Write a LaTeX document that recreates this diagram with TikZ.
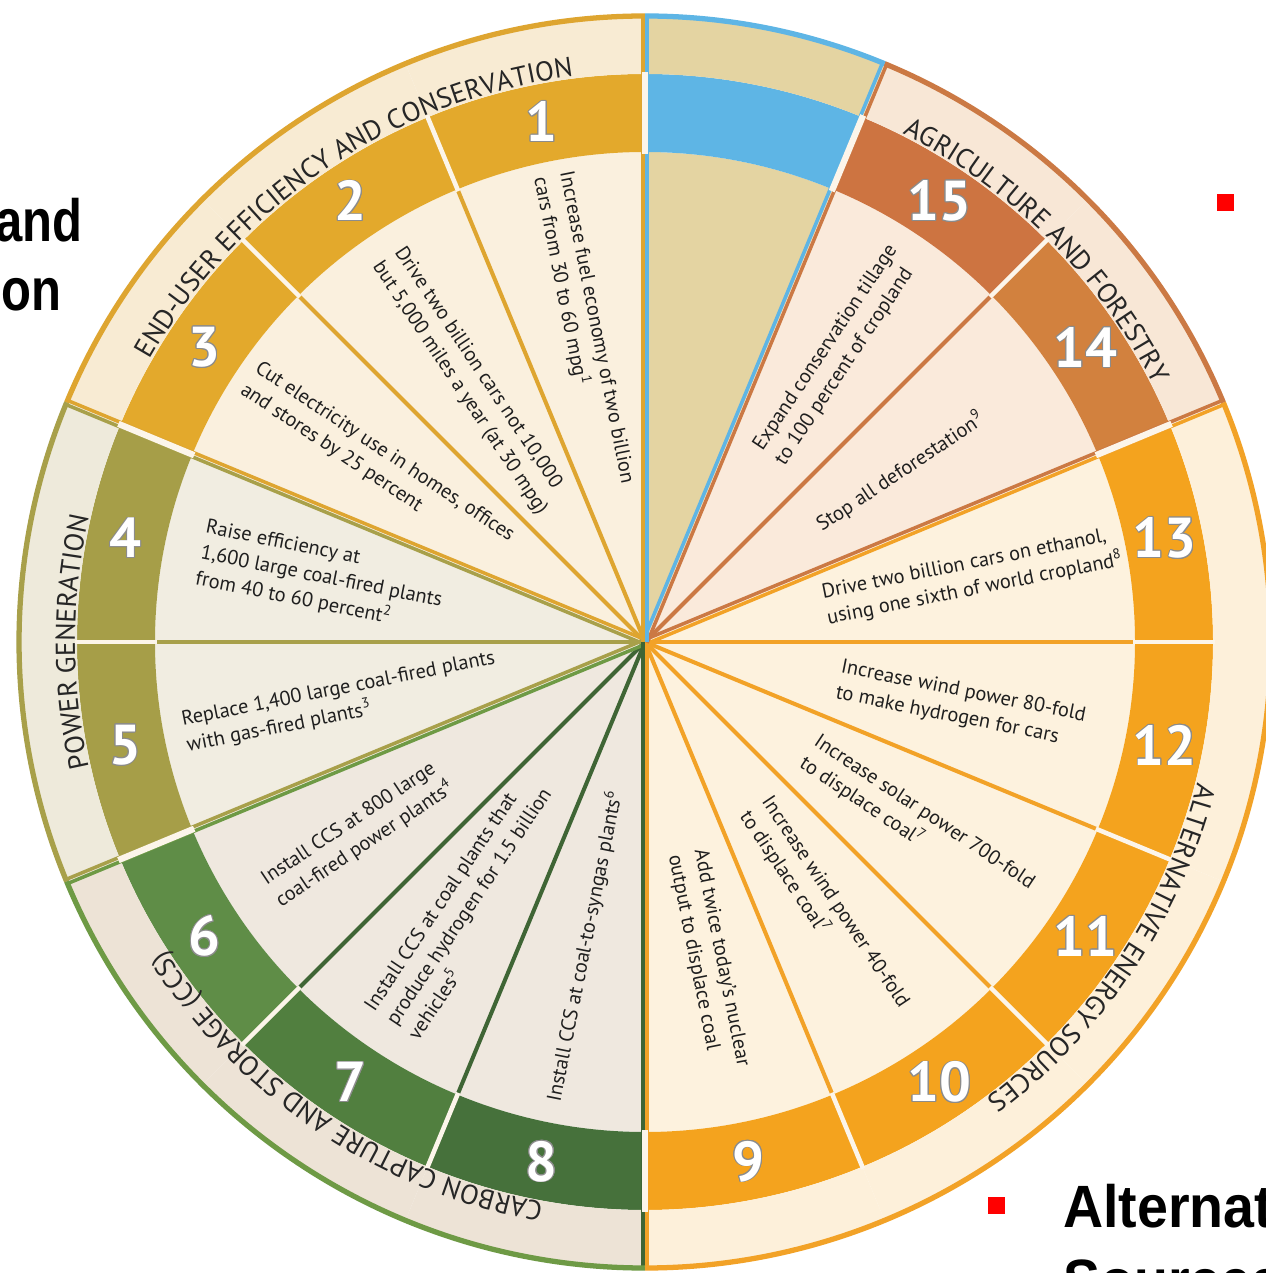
\documentclass[tikz,border=0pt]{standalone}
\usepackage{fontspec}
\usepackage{contour}
\setmainfont{PT Sans}
\newfontfamily\slidefont{Liberation Sans}
\usetikzlibrary{decorations.text}

\definecolor{usebg}{HTML}{FAF0DE}
\definecolor{useband}{HTML}{F8EBD3}
\definecolor{usering}{HTML}{E3A92C}
\definecolor{useline}{HTML}{DEA530}
\definecolor{powbg}{HTML}{F1EDE1}
\definecolor{powband}{HTML}{EEEADB}
\definecolor{powring}{HTML}{A69E48}
\definecolor{powline}{HTML}{A8A04A}
\definecolor{ccsbg}{HTML}{EFE8DF}
\definecolor{ccsband}{HTML}{EDE3D6}
\definecolor{ccs6}{HTML}{5F8D47}
\definecolor{ccs7}{HTML}{517F3F}
\definecolor{ccs8}{HTML}{46713B}
\definecolor{ccsline}{HTML}{6E9A45}
\definecolor{ccsdark}{HTML}{3F6535}
\definecolor{altbg}{HTML}{FDF2DE}
\definecolor{altband}{HTML}{FDF0DA}
\definecolor{altring}{HTML}{F4A31E}
\definecolor{altline}{HTML}{F2A227}
\definecolor{agrbg}{HTML}{FAEADB}
\definecolor{agrband}{HTML}{F8E7D6}
\definecolor{agr15}{HTML}{CD7441}
\definecolor{agr14}{HTML}{D2813E}
\definecolor{agrline}{HTML}{CB7944}
\definecolor{skyblue}{HTML}{5EB5E5}
\definecolor{tan}{HTML}{E4D4A2}
\definecolor{gapcol}{HTML}{FCF5EA}
\definecolor{slidered}{HTML}{FF0000}

\newcommand{\wedgefont}{\fontsize{11.6}{15}\selectfont}
\newcommand{\catfont}{\fontsize{15.6}{15.6}\selectfont}
\newcommand{\numfont}{\fontsize{32}{32}\selectfont\bfseries}
\contourlength{0.5pt}

\tikzset{
  wedgetext/.style={align=left, text=black!88, font=\wedgefont, inner sep=0pt},
  ringnum/.style={text=white, font=\numfont, inner sep=0pt},
  catlabel/.style={decorate, decoration={text along path, text align=center,
      text color=black!85, text={|\catfont|#1}}},
  spoke/.style={line width=2.3pt},
  divider/.style={line width=2pt},
  gap/.style={gapcol, line width=2.6pt},
  rim/.style={line width=3pt},
  slidetext/.style={font=\slidefont\bfseries\fontsize{34}{34}\selectfont, inner sep=0pt},
  bullet/.style={fill=slidered, minimum size=17*0.02cm, inner sep=0pt}
}

\begin{document}
\begin{tikzpicture}[x=0.02cm, y=0.02cm]
\useasboundingbox (-645,-631) rectangle (621,642);
\fill[white] (-645,-631) rectangle (621,642);

% wedges: inner / number ring / label band
\foreach \i/\inner/\ring/\band in {1/usebg/usering/useband, 2/usebg/usering/useband,
    3/usebg/usering/useband, 4/powbg/powring/powband, 5/powbg/powring/powband,
    6/ccsbg/ccs6/ccsband, 7/ccsbg/ccs7/ccsband, 8/ccsbg/ccs8/ccsband,
    9/altbg/altring/altband, 10/altbg/altring/altband, 11/altbg/altring/altband,
    12/altbg/altring/altband, 13/altbg/altring/altband,
    14/agrbg/agr14/agrband, 15/agrbg/agr15/agrband, 0/tan/skyblue/tan}{
  \pgfmathsetmacro{\sa}{90+22.5*(\i-1)}
  \pgfmathsetmacro{\sb}{\sa+22.5}
  \fill[\inner] (0,0) -- (\sa:490) arc[start angle=\sa, end angle=\sb, radius=490] -- cycle;
  \fill[\ring] (\sa:490) -- (\sa:568) arc[start angle=\sa, end angle=\sb, radius=568]
    -- (\sb:490) arc[start angle=\sb, end angle=\sa, radius=490] -- cycle;
  \fill[\band] (\sa:568) -- (\sa:628) arc[start angle=\sa, end angle=\sb, radius=628]
    -- (\sb:568) arc[start angle=\sb, end angle=\sa, radius=568] -- cycle;
}

% spokes inside a group
\foreach \ang/\col in {112.5/useline, 135/useline, 180/powline, 225/ccsdark, 247.5/ccsdark,
    292.5/altline, 315/altline, 337.5/altline, 360/altline, 45/agrline}{
  \draw[spoke,\col] (0,0) -- (\ang:490);
  \draw[gap] (\ang:488) -- (\ang:570);
}

% group borders, two colours side by side
\foreach \ang/\ccw/\cw in {157.5/powline/useline, 202.5/ccsline/powline, 270/altline/ccsdark,
    22.5/agrline/altline, 67.5/skyblue/agrline, 90/useline/skyblue}{
  \draw[divider,\ccw,shift={(\ang+90:2.2)}] (0,0) -- (\ang:628);
  \draw[divider,\cw,shift={(\ang-90:2.2)}] (0,0) -- (\ang:628);
  \draw[gap,line width=3.6pt] (\ang:488) -- (\ang:570);
}

\foreach \sa/\sb/\col in {90/157.5/useline, 157.5/202.5/powline, 202.5/270/ccsline,
    270/382.5/altline, 22.5/67.5/agrline, 67.5/90/skyblue}
  \draw[rim,\col] (\sa:626) arc[start angle=\sa, end angle=\sb, radius=626];

% group names on the outer band
\path[catlabel={END-USER EFFICIENCY AND CONSERVATION}] (157.5:570) arc[start angle=157.5, end angle=90, radius=570];
\path[catlabel={POWER GENERATION}] (202.5:570) arc[start angle=202.5, end angle=157.5, radius=570];
\path[catlabel={CARBON CAPTURE AND STORAGE (CCS)}] (270:570) arc[start angle=270, end angle=202.5, radius=570];
\path[catlabel={ALTERNATIVE ENERGY SOURCES}] (22.5:570) arc[start angle=22.5, end angle=-90, radius=570];
\path[catlabel={AGRICULTURE AND FORESTRY}] (67.5:570) arc[start angle=67.5, end angle=22.5, radius=570];

\foreach \i in {1,...,15}{
  \pgfmathsetmacro{\m}{101.25+22.5*(\i-1)}
  \node[ringnum] (n\i) at (\m:530) {\contour{black!45}{\i}};
}

\node[wedgetext, rotate=-78.75] (w1) at (101.25:318)
  {Increase fuel economy of two billion\\cars from 30 to 60 mpg\textsuperscript{1}};
\node[wedgetext, rotate=-56.25] (w2) at (123.75:314)
  {Drive two billion cars not 10,000\\but 5,000 miles a year (at 30 mpg)};
\node[wedgetext, rotate=-33.75] (w3) at (146.25:322)
  {Cut electricity use in homes, offices\\and stores by 25 percent};
\node[wedgetext, rotate=-11.25] (w4) at (168.75:330)
  {Raise efficiency at\\1,600 large coal-fired plants\\from 40 to 60 percent\textsuperscript{2}};
\node[wedgetext, rotate=11.25] (w5) at (191.25:310)
  {Replace 1,400 large coal-fired plants\\with gas-fired plants\textsuperscript{3}};
\node[wedgetext, rotate=33.75] (w6) at (213.75:345)
  {Install CCS at 800 large\\coal-fired power plants\textsuperscript{4}};
\node[wedgetext, rotate=56.25] (w7) at (236.25:318)
  {Install CCS at coal plants that\\produce hydrogen for 1.5 billion\\vehicles\textsuperscript{5}};
\node[wedgetext, rotate=78.75] (w8) at (258.75:310)
  {Install CCS at coal-to-syngas plants\textsuperscript{6}};
\node[wedgetext, rotate=-78.75] (w9) at (281.25:325)
  {Add twice today's nuclear\\output to displace coal};
\node[wedgetext, rotate=-56.25] (w10) at (303.75:322)
  {Increase wind power 40-fold\\to displace coal\textsuperscript{7}};
\node[wedgetext, rotate=-33.75] (w11) at (326.25:327)
  {Increase solar power 700-fold\\to displace coal\textsuperscript{7}};
\node[wedgetext, rotate=-11.25] (w12) at (348.75:322)
  {Increase wind power 80-fold\\to make hydrogen for cars};
\node[wedgetext, rotate=11.25] (w13) at (11.25:334)
  {Drive two billion cars on ethanol,\\using one sixth of world cropland\textsuperscript{8}};
\node[wedgetext, rotate=33.75] (w14) at (33.75:307)
  {Stop all deforestation\textsuperscript{9}};
\node[wedgetext, rotate=56.25] (w15) at (56.25:345)
  {Expand conservation tillage\\to 100 percent of cropland};

% slide text around the wheel
\node[slidetext, anchor=base east] (and) at (-562,400) {\scalebox{0.82}[1]{and}};
\node[slidetext, anchor=base east] (on) at (-583,331) {\scalebox{0.82}[1]{on}};
\node[bullet] (b1) at (580.5,439.5) {};
\node[bullet] (b2) at (351.5,-563) {};
\node[slidetext, anchor=base west] (alt) at (418,-585) {\scalebox{0.93}[1]{Alternative}};
\node[slidetext, anchor=base west] (src) at (418,-659) {\scalebox{0.93}[1]{Sources}};
\end{tikzpicture}
\end{document}
